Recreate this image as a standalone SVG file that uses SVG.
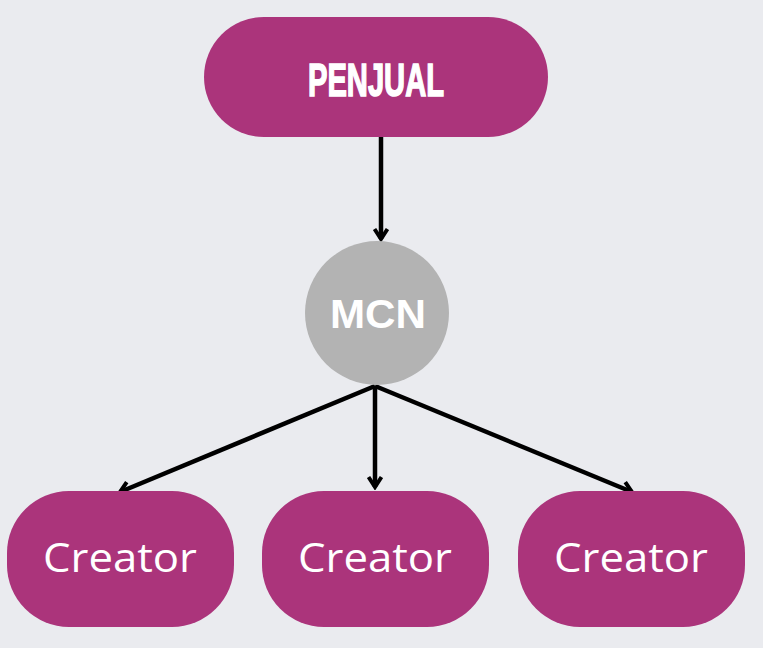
<svg xmlns="http://www.w3.org/2000/svg" width="763" height="648" viewBox="0 0 763 648">
<defs>
<style>
.pill{fill:#AB347B}
.circ{fill:#B3B3B3}
.lbl{fill:#FFFFFF;text-anchor:middle}
.sans{font-family:"Open Sans","Liberation Sans",sans-serif}
.bold{font-family:"Liberation Sans",Arial,sans-serif;font-weight:bold}
.heavy{stroke:#FFFFFF;stroke-width:1.6;stroke-linejoin:miter}
.conn{stroke:#000;stroke-width:4.5;fill:none}
</style>
<marker id="arr" viewBox="0 0 16 16" refX="13" refY="8" markerWidth="16" markerHeight="16" markerUnits="userSpaceOnUse" orient="auto">
<path d="M3,1.5 L13,8 L3,14.5" fill="none" stroke="#000" stroke-width="4"/>
</marker>
</defs>
<rect width="763" height="648" fill="#EAEBEF"/>
<g id="connectors">
<line class="conn" x1="381" y1="137" x2="381" y2="239" marker-end="url(#arr)"/>
<line class="conn" x1="375" y1="386" x2="120" y2="492" marker-end="url(#arr)"/>
<line class="conn" x1="375" y1="386" x2="375" y2="487" marker-end="url(#arr)"/>
<line class="conn" x1="375" y1="386" x2="632" y2="492" marker-end="url(#arr)"/>
</g>
<g id="penjual">
<rect class="pill" x="204" y="17" width="344" height="120" rx="60"/>
<text class="lbl bold heavy" x="376" y="96" font-size="46" textLength="136" lengthAdjust="spacingAndGlyphs">PENJUAL</text>
</g>
<g id="mcn">
<circle class="circ" cx="377" cy="313" r="72"/>
<text class="lbl bold" x="378" y="328" font-size="41" textLength="96" lengthAdjust="spacingAndGlyphs">MCN</text>
</g>
<g id="creator1">
<rect class="pill" x="7" y="491" width="227" height="136" rx="62"/>
<text class="lbl sans" x="120" y="572" font-size="40" textLength="154" lengthAdjust="spacingAndGlyphs">Creator</text>
</g>
<g id="creator2">
<rect class="pill" x="262" y="491" width="227" height="136" rx="62"/>
<text class="lbl sans" x="375" y="572" font-size="40" textLength="154" lengthAdjust="spacingAndGlyphs">Creator</text>
</g>
<g id="creator3">
<rect class="pill" x="518" y="491" width="227" height="136" rx="62"/>
<text class="lbl sans" x="631" y="572" font-size="40" textLength="154" lengthAdjust="spacingAndGlyphs">Creator</text>
</g>
</svg>
